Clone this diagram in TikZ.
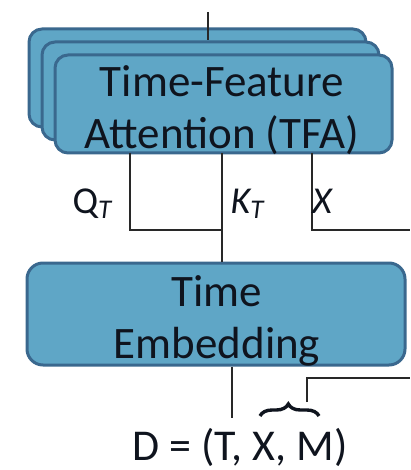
\documentclass[tikz,border=0pt]{standalone}
\usepackage{fontspec}
\setmainfont{Carlito}
\usetikzlibrary{decorations.pathreplacing}
\definecolor{boxfill}{RGB}{95,166,198}
\definecolor{boxline}{RGB}{58,104,142}
\definecolor{wire}{RGB}{40,40,40}
\definecolor{ink}{RGB}{15,20,30}
\tikzset{
  blockbox/.style={draw=boxline, fill=boxfill, line width=3pt, rounded corners=13pt, inner sep=0pt},
  wireline/.style={draw=wire, line width=1.5pt},
  bigtext/.style={font=\fontsize{45}{52}\selectfont, align=center, text=ink},
  lbl/.style={font=\fontsize{38}{40}\selectfont, inner sep=0pt, text=ink}
}
\begin{document}
\begin{tikzpicture}[x=1pt,y=-1pt]
\useasboundingbox (0,0) rectangle (410,470);
% stacked TFA boxes
\node[blockbox, minimum width=337pt, minimum height=98pt] (tfa3) at (197.5,78) {};
\coordinate (top) at (208,12);
\draw[wireline] (top) -- (top |- tfa3.north) -- ++(0,13);
\node[blockbox, minimum width=337pt, minimum height=98pt] (tfa2) at (210.5,91) {};
\node[blockbox, minimum width=337pt, minimum height=98pt] (tfa) at (223.5,104) {};
\node[bigtext, inner sep=0pt] (tfatext) at (222,110) {Time-Feature\\Attention (TFA)};
% time embedding
\node[blockbox, rounded corners=16pt, minimum width=378pt, minimum height=102pt] (emb) at (216,314) {};
\node[bigtext, inner sep=0pt] (embtext) at (217,321) {Time\\Embedding};
% wires
\coordinate (qtop) at (130,153);
\coordinate (ktop) at (222,153);
\coordinate (xtop) at (312,153);
\coordinate (qcorner) at (130,230);
\coordinate (xcorner) at (312,230);
\coordinate (xend) at (410,230);
\draw[wireline] (qtop) -- (qcorner) -- (ktop |- qcorner);
\draw[wireline] (ktop) -- (ktop |- emb.north);
\draw[wireline] (xtop) -- (xcorner) -- (xend);
% labels
\node[lbl, anchor=base] (ql) at (92,213) {Q\raisebox{-5pt}{\fontsize{27}{30}\selectfont\itshape T}};
\node[lbl, anchor=base] (kl) at (247,213) {\itshape K\raisebox{-5pt}{\fontsize{27}{30}\selectfont T}};
\node[lbl, anchor=base] (xl) at (322,213) {\itshape X};
% input
\node[font=\fontsize{44}{50}\selectfont, anchor=base, inner sep=0pt, text=ink] (d) at (240,460) {D = (T, X, M)};
\coordinate (ebot) at (232,418);
\draw[wireline] (ebot |- emb.south) -- (ebot);
\coordinate (bl) at (260,416);
\coordinate (br) at (319,416);
\draw[ink, line width=3.4pt, decorate, decoration={brace, amplitude=12pt, aspect=0.48}] (bl) -- (br);
\coordinate (bt) at (307,402);
\coordinate (bcorner) at (307,378);
\coordinate (bend) at (410,378);
\draw[wireline] (bt) -- (bcorner) -- (bend);
\end{tikzpicture}
\end{document}
